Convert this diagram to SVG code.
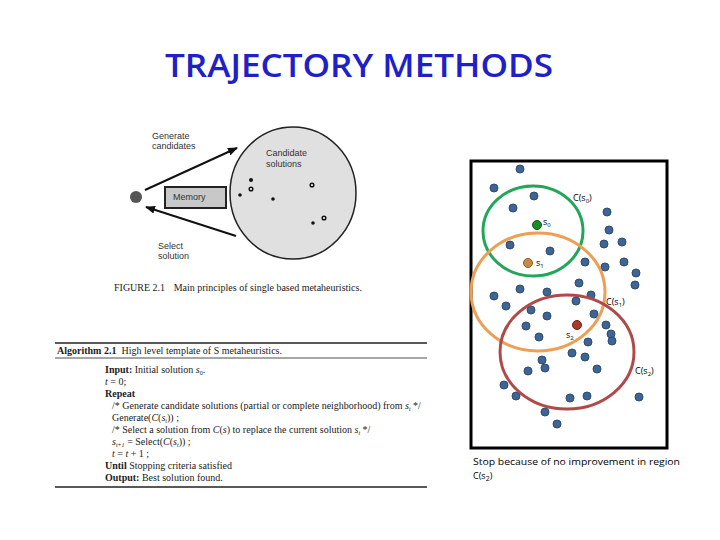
<svg xmlns="http://www.w3.org/2000/svg" width="720" height="540" viewBox="0 0 720 540">
<style>
.s{font-family:"Liberation Serif",serif;font-size:10px;fill:#222}
.a{font-family:"Liberation Sans",sans-serif;font-size:9px;fill:#333}
.c{font-family:"Open Sans","Liberation Sans",sans-serif;font-size:9px;fill:#000}
.d{fill:#3f6496;stroke:#2c4a72;stroke-width:1}
.k{fill:#111}
.o{fill:#fff;stroke:#111;stroke-width:1.5}
</style>
<defs><marker id="ar" markerWidth="10" markerHeight="8" refX="9" refY="4" orient="auto" markerUnits="userSpaceOnUse"><path d="M0,0 L10,4 L0,8 Z" fill="#111"/></marker></defs>
<rect width="720" height="540" fill="#fff"/>
<text x="165" y="77" textLength="388" lengthAdjust="spacingAndGlyphs" font-family="Open Sans,Liberation Sans,sans-serif" font-size="33" font-weight="600" fill="#2020c8">TRAJECTORY METHODS</text>
<g id="fig21">
<ellipse cx="293" cy="193" rx="63" ry="66" fill="#e0e0e0" stroke="#222" stroke-width="1.5"/>
<circle cx="136" cy="197" r="6" fill="#555"/>
<g id="memory"><rect x="165" y="187" width="61" height="21" fill="#c8c8c8" stroke="#222" stroke-width="2"/><text x="173" y="200" class="a">Memory</text></g>
<text x="266" y="156" class="a">Candidate</text><text x="266" y="167" class="a">solutions</text>
<text x="152" y="139" class="a">Generate</text><text x="152" y="149" class="a">candidates</text>
<text x="158" y="249" class="a">Select</text><text x="158" y="259" class="a">solution</text>
<circle cx="251" cy="180" r="2" class="k"/><circle cx="251" cy="189" r="1.8" class="o"/><circle cx="240" cy="195" r="1.8" class="k"/><circle cx="273" cy="199" r="1.8" class="k"/><circle cx="312" cy="185" r="1.8" class="o"/><circle cx="324" cy="218" r="1.8" class="o"/><circle cx="313" cy="223" r="1.8" class="k"/>
<text x="114" y="291" class="s" font-size="10.5">FIGURE 2.1 <tspan dx="6">Main principles of single based metaheuristics.</tspan></text>
</g>
<g id="connectors" stroke="#111" stroke-width="2" fill="none">
<line x1="145" y1="190" x2="237" y2="148" marker-end="url(#ar)"/>
<line x1="236" y1="236" x2="146" y2="207" marker-end="url(#ar)"/>
</g>
<g id="algorithm">
<line x1="55" y1="343" x2="427" y2="343" stroke="#222" stroke-width="1.5"/>
<line x1="55" y1="358" x2="427" y2="358" stroke="#222" stroke-width="0.8"/>
<line x1="55" y1="487" x2="427" y2="487" stroke="#222" stroke-width="1.5"/>
<text x="57" y="354" class="s"><tspan font-weight="bold">Algorithm 2.1</tspan><tspan dx="5">High level template of S metaheuristics.</tspan></text>
<text x="105" y="373" class="s"><tspan font-weight="bold">Input:</tspan> Initial solution <tspan font-style="italic">s</tspan><tspan font-size="6" dy="2">0</tspan><tspan dy="-2">.</tspan></text>
<text x="105" y="385" class="s" font-style="italic">t <tspan font-style="normal">= 0;</tspan></text>
<text x="105" y="397" class="s" font-weight="bold">Repeat</text>
<text x="112" y="409" class="s">/* Generate candidate solutions (partial or complete neighborhood) from <tspan font-style="italic">s</tspan><tspan font-size="6" dy="2" font-style="italic">t</tspan><tspan dy="-2"> */</tspan></text>
<text x="112" y="421" class="s">Generate(<tspan font-style="italic">C</tspan>(<tspan font-style="italic">s</tspan><tspan font-size="6" dy="2" font-style="italic">t</tspan><tspan dy="-2">)) ;</tspan></text>
<text x="112" y="433" class="s">/* Select a solution from <tspan font-style="italic">C</tspan>(<tspan font-style="italic">s</tspan>) to replace the current solution <tspan font-style="italic">s</tspan><tspan font-size="6" dy="2" font-style="italic">t</tspan><tspan dy="-2"> */</tspan></text>
<text x="112" y="445" class="s" font-style="italic">s<tspan font-size="6" dy="2">t+1</tspan><tspan dy="-2" font-style="normal"> = Select(</tspan>C<tspan font-style="normal">(</tspan>s<tspan font-size="6" dy="2">t</tspan><tspan dy="-2" font-style="normal">)) ;</tspan></text>
<text x="112" y="457" class="s" font-style="italic">t <tspan font-style="normal">= </tspan>t<tspan font-style="normal"> + 1 ;</tspan></text>
<text x="105" y="469" class="s"><tspan font-weight="bold">Until</tspan> Stopping criteria satisfied</text>
<text x="105" y="481" class="s"><tspan font-weight="bold">Output:</tspan> Best solution found.</text>
</g>
<g id="search">
<rect x="471" y="161" width="196" height="287" fill="#fff" stroke="#000" stroke-width="3"/>
<g id="dots">
<circle cx="520" cy="169" r="4" class="d"/><circle cx="494" cy="188" r="4" class="d"/><circle cx="534" cy="196" r="4" class="d"/><circle cx="513" cy="208" r="4" class="d"/><circle cx="607" cy="212" r="4" class="d"/><circle cx="609" cy="230" r="4" class="d"/><circle cx="604" cy="244" r="4" class="d"/><circle cx="622" cy="242" r="4" class="d"/><circle cx="510" cy="245" r="4" class="d"/><circle cx="550" cy="251" r="4" class="d"/><circle cx="585" cy="262" r="4" class="d"/><circle cx="605" cy="267" r="4" class="d"/><circle cx="624" cy="262" r="4" class="d"/><circle cx="636" cy="273" r="4" class="d"/><circle cx="635" cy="285" r="4" class="d"/><circle cx="494" cy="296" r="4" class="d"/><circle cx="520" cy="289" r="4" class="d"/><circle cx="547" cy="292" r="4" class="d"/><circle cx="579" cy="283" r="4" class="d"/><circle cx="591" cy="295" r="4" class="d"/><circle cx="506" cy="306" r="4" class="d"/><circle cx="531" cy="310" r="4" class="d"/><circle cx="576" cy="301" r="4" class="d"/><circle cx="594" cy="314" r="4" class="d"/><circle cx="547" cy="316" r="4" class="d"/><circle cx="606" cy="325" r="4" class="d"/><circle cx="526" cy="326" r="4" class="d"/><circle cx="539" cy="337" r="4" class="d"/><circle cx="611" cy="334" r="4" class="d"/><circle cx="612" cy="341" r="4" class="d"/><circle cx="588" cy="342" r="4" class="d"/><circle cx="572" cy="353" r="4" class="d"/><circle cx="585" cy="357" r="4" class="d"/><circle cx="542" cy="360" r="4" class="d"/><circle cx="545" cy="368" r="4" class="d"/><circle cx="528" cy="371" r="4" class="d"/><circle cx="597" cy="369" r="4" class="d"/><circle cx="504" cy="385" r="4" class="d"/><circle cx="516" cy="396" r="4" class="d"/><circle cx="570" cy="398" r="4" class="d"/><circle cx="587" cy="396" r="4" class="d"/><circle cx="639" cy="397" r="4" class="d"/><circle cx="545" cy="412" r="4" class="d"/><circle cx="557" cy="424" r="4" class="d"/>
</g>
<ellipse cx="533" cy="231" rx="50" ry="45" fill="none" stroke="#22a75a" stroke-width="3"/>
<ellipse cx="538" cy="292" rx="67" ry="59" fill="none" stroke="#ec9f55" stroke-width="3"/>
<ellipse cx="567" cy="352" rx="67" ry="57" fill="none" stroke="#b04a4a" stroke-width="3"/>
<circle cx="537" cy="225" r="4.5" fill="#1a8c2a" stroke="#0d5a14"/>
<circle cx="528" cy="263" r="4.5" fill="#c98a45" stroke="#8c5a25"/>
<circle cx="577" cy="325" r="4.5" fill="#a83a2a" stroke="#702010"/>
<text x="573" y="201" class="c">C(s<tspan font-size="6" dy="2">0</tspan><tspan dy="-2">)</tspan></text>
<text x="543" y="225" class="c">s<tspan font-size="6" dy="2">0</tspan></text>
<text x="536" y="266" class="c">s<tspan font-size="6" dy="2">1</tspan></text>
<text x="606" y="305" class="c">C(s<tspan font-size="6" dy="2">1</tspan><tspan dy="-2">)</tspan></text>
<text x="566" y="338" class="c">s<tspan font-size="6" dy="2">2</tspan></text>
<text x="635" y="374" class="c">C(s<tspan font-size="6" dy="2">2</tspan><tspan dy="-2">)</tspan></text>
<text x="473" y="465" class="c" font-size="10" textLength="207" lengthAdjust="spacingAndGlyphs">Stop because of no improvement in region</text>
<text x="473" y="479" class="c" font-size="10">C(s<tspan font-size="7" dy="2">2</tspan><tspan dy="-2">)</tspan></text>
</g>
</svg>
